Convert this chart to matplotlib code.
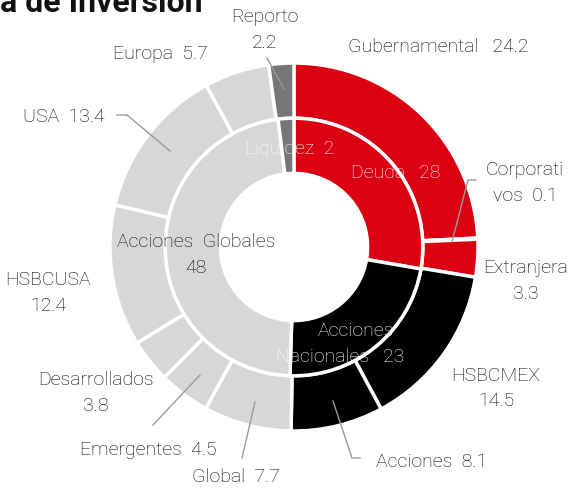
import matplotlib
matplotlib.use("Agg")
import matplotlib.pyplot as plt

# Data
inner_labels = ["Deuda", "Acciones Nacionales", "Acciones Globales", "Liquidez"]
inner_values = [28, 23, 48, 2]
inner_colors = ["#DB0011", "#000000", "#D7D7D7", "#767676"]

outer_labels = ["Gubernamental", "Corporativos", "Extranjera", "HSBCMEX", "Acciones",
                "Global", "Emergentes", "Desarrollados", "HSBCUSA", "USA", "Europa", "Reporto"]
outer_values = [24.2, 0.1, 3.3, 14.5, 8.1, 7.7, 4.5, 3.8, 12.4, 13.4, 5.7, 2.2]
outer_colors = ["#DB0011"] * 3 + ["#000000"] * 2 + ["#D7D7D7"] * 6 + ["#767676"]

W, H = 569, 489
fig = plt.figure(figsize=(W / 100, H / 100), dpi=100)
ax = fig.add_axes([0, 0, 1, 1])

FONT = "Roboto"
plt.rcParams["font.family"] = [FONT, "DejaVu Sans"]

cx, cy = 294, H - 248
R = 184
wp = dict(edgecolor="white", linewidth=2.5)
ax.pie(outer_values, colors=outer_colors, startangle=90, counterclock=False,
       radius=R, center=(cx, cy), wedgeprops=dict(width=R * 0.30, **wp), frame=True)
ax.pie(inner_values, colors=inner_colors, startangle=90, counterclock=False,
       radius=R * 0.70, center=(cx, cy), wedgeprops=dict(width=R * 0.30, **wp), frame=True)
ax.set_xlim(0, W)
ax.set_ylim(0, H)
ax.axis("off")

fs = 14

def txt(x, y, s, color="#000000", **kw):
    ax.text(x, H - y, s, ha="center", va="center", fontsize=fs, color=color,
            fontweight="light", **kw)

def line(pts):
    xs = [p[0] for p in pts]
    ys = [H - p[1] for p in pts]
    ax.plot(xs, ys, color="#9A9A9A", lw=1)

# title (cut off at the top edge, as in the reference)
ax.text(0, H - 12, "a de Inversión", ha="left", va="baseline", fontsize=23,
        fontweight="bold", color="#111111")

o = dict(zip(outer_labels, outer_values))
i = dict(zip(inner_labels, inner_values))

txt(265, 17, "Reporto")
txt(265, 43, f"{o['Reporto']}")
line([(267, 59), (284, 90)])
txt(438, 47, f"Gubernamental   {o['Gubernamental']}")
txt(160, 54, f"Europa  {o['Europa']}")
txt(64, 117, f"USA  {o['USA']}")
line([(117, 116), (127, 116), (170, 152)])
txt(525, 170, "Corporati")
txt(525, 196, f"vos  {o['Corporativos']}")
line([(476, 181), (468, 181), (452, 243)])
txt(526, 268, "Extranjera")
txt(526, 294, f"{o['Extranjera']}")
txt(496, 376, "HSBCMEX")
txt(496, 401, f"{o['HSBCMEX']}")
txt(432, 462, f"Acciones  {o['Acciones']}")
line([(333, 402), (352, 459), (360, 459)])
txt(236, 477, f"Global  {o['Global']}")
line([(242, 459), (255, 403)])
txt(148, 450, f"Emergentes  {o['Emergentes']}")
line([(153, 426), (200, 376)])
txt(96, 380, "Desarrollados")
txt(96, 406, f"{o['Desarrollados']}")
txt(48, 280, "HSBCUSA")
txt(48, 306, f"{o['HSBCUSA']}")

txt(196, 242, "Acciones  Globales")
txt(196, 268, f"{i['Acciones Globales']}")
txt(290, 149, f"Liquidez  {i['Liquidez']}", color="white")
txt(396, 173, f"Deuda   {i['Deuda']}", color="white")
txt(356, 331, "Acciones", color="white")
txt(340, 357, f"Nacionales   {i['Acciones Nacionales']}", color="white")

fig.savefig("out.png", dpi=100)
